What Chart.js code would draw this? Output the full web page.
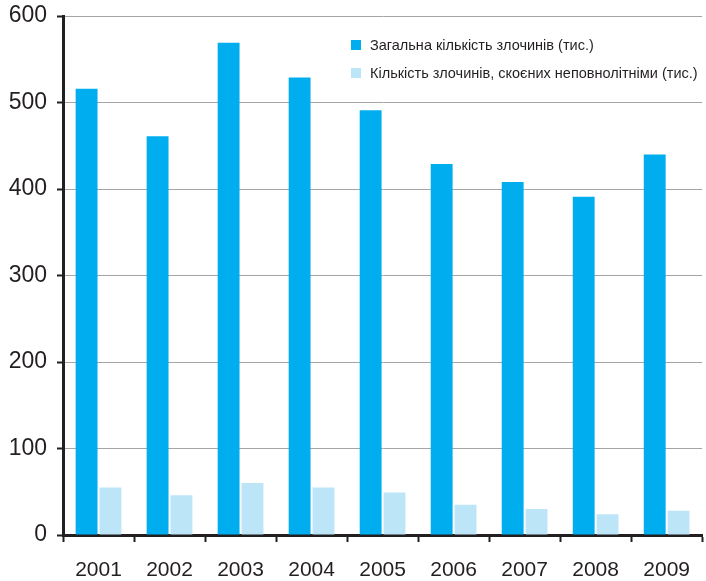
<!DOCTYPE html>
<html>
<head>
<meta charset="utf-8">
<script src="https://cdn.jsdelivr.net/npm/chart.js@4.4.1/dist/chart.umd.min.js"></script>
<style>
	html, body { margin: 0; padding: 0; background: #fff; }
	#wrap { width: 706px; height: 581px; }
</style>
</head>
<body>
<div id="wrap"><canvas id="myChart" width="706" height="581"></canvas></div>
<script>
var years = ["2001", "2002", "2003", "2004", "2005", "2006", "2007", "2008", "2009"];
var totalCrimes = [516, 461, 569, 529, 491, 429, 408, 391, 440];
var juvenileCrimes = [55, 46, 60, 55, 49, 35, 30, 24, 28];
var seriesLabels = ["Загальна кількість злочинів (тис.)", "Кількість злочинів, скоєних неповнолітніми (тис.)"];
var seriesColors = ["#00aeef", "#bde5f8"];
var yTicks = [0, 100, 200, 300, 400, 500, 600];

var textColor = "#231f20";

// legend drawn inside the plot, top right
var innerLegend = {
	id: "innerLegend",
	afterDraw: function(chart) {
		var ctx = chart.ctx;
		var rows = [45, 73];
		ctx.save();
		ctx.font = "14.5px 'Liberation Sans'";
		ctx.textBaseline = "middle";
		chart.data.datasets.forEach(function(ds, i) {
			ctx.fillStyle = ds.backgroundColor;
			ctx.fillRect(351, rows[i] - 5, 10, 10);
			ctx.fillStyle = textColor;
			ctx.fillText(ds.label, 370, rows[i] + 1);
		});
		ctx.restore();
	}
};

var ctx = document.getElementById("myChart");
var myChart = new Chart(ctx, {
	type: 'bar',
	data: {
		labels: years,
		datasets: [{
			label: seriesLabels[0],
			data: totalCrimes,
			backgroundColor: seriesColors[0],
			categoryPercentage: 0.672,
			barPercentage: 0.917
		}, {
			label: seriesLabels[1],
			data: juvenileCrimes,
			backgroundColor: seriesColors[1],
			categoryPercentage: 0.672,
			barPercentage: 0.917
		}]
	},
	options: {
		responsive: false,
		animation: false,
		layout: { padding: { top: 16, right: 0, left: 0, bottom: 0 } },
		plugins: {
			legend: { display: false },
			tooltip: { enabled: false }
		},
		scales: {
			x: {
				offset: true,
				grid: {
					display: true,
					drawOnChartArea: false,
					offset: true,
					tickLength: 7,
					tickColor: textColor,
					tickWidth: 2
				},
				border: { display: true, color: textColor, width: 3 },
				ticks: {
					color: textColor,
					font: { family: "'Liberation Sans'", size: 21 },
					padding: 16,
					maxRotation: 0
				},
				afterFit: function(scale) { scale.height = 46; }
			},
			y: {
				min: 0,
				max: 600,
				afterBuildTicks: function(scale) {
					scale.ticks = yTicks.map(function(v) { return { value: v }; });
				},
				grid: {
					color: "#a5a5a5",
					lineWidth: 1,
					borderDash: [1, 2],
					tickLength: 6,
					tickColor: textColor,
					tickWidth: 2,
					tickBorderDash: []
				},
				border: { display: true, color: textColor, width: 3 },
				ticks: {
					color: textColor,
					font: { family: "'Liberation Sans'", size: 23, lineHeight: 0.5 },
					padding: 10
				},
				afterFit: function(scale) { scale.width = 63; }
			}
		}
	},
	plugins: [innerLegend]
});
</script>
</body>
</html>
